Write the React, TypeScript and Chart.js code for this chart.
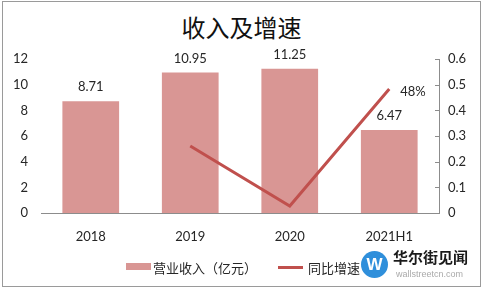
import React, { useEffect, useRef } from "react";
import { Chart, registerables } from "chart.js";

Chart.register(...registerables);

const categories = ["2018", "2019", "2020", "2021H1"];
const revenue = [8.71, 10.95, 11.25, 6.47];
const revenueLabels = ["8.71", "10.95", "11.25", "6.47"];
const growth: (number | null)[] = [null, 0.261, 0.027, 0.483];
const growthLabels = ["", "", "", "48%"];
const leftTicks = [0, 2, 4, 6, 8, 10, 12];
const rightTicks = [0, 0.1, 0.2, 0.3, 0.4, 0.5, 0.6];

const BAR_COLOR = "#D99694";
const LINE_COLOR = "#C0504D";
const AXIS_COLOR = "#8C8C8C";
const TEXT_COLOR = "#262626";
const NUM_FONT = "Lato, 'Liberation Sans', sans-serif";
const CJK_FONT = "'Noto Sans CJK SC', sans-serif";

const labelPlugin = {
  id: "labelPlugin",
  afterDatasetsDraw(chart: any) {
    const ctx = chart.ctx;
    ctx.save();
    ctx.fillStyle = TEXT_COLOR;
    ctx.font = `13px ${NUM_FONT}`;
    ctx.textAlign = "center";
    ctx.textBaseline = "middle";
    const barMeta = chart.getDatasetMeta(0);
    barMeta.data.forEach((el: any, i: number) => {
      ctx.fillText(revenueLabels[i], el.x, el.y - 14);
    });
    const lineMeta = chart.getDatasetMeta(1);
    ctx.textAlign = "left";
    lineMeta.data.forEach((el: any, i: number) => {
      if (growthLabels[i]) ctx.fillText(growthLabels[i], el.x + 11, el.y + 3);
    });
    // inward tick marks on the secondary axis
    const y1 = chart.scales.y1;
    ctx.strokeStyle = AXIS_COLOR;
    ctx.lineWidth = 1;
    rightTicks.forEach((v) => {
      const py = Math.round(y1.getPixelForValue(v)) + 0.5;
      ctx.beginPath();
      ctx.moveTo(chart.chartArea.right - 4, py);
      ctx.lineTo(chart.chartArea.right, py);
      ctx.stroke();
    });
    ctx.restore();
  },
};

function ChartCanvas() {
  const ref = useRef<HTMLCanvasElement | null>(null);
  useEffect(() => {
    if (!ref.current) return;
    const chart = new Chart(ref.current, {
      type: "bar",
      data: {
        labels: categories,
        datasets: [
          {
            type: "bar",
            label: "营业收入（亿元）",
            data: revenue,
            backgroundColor: BAR_COLOR,
            yAxisID: "y",
            barPercentage: 0.57,
            categoryPercentage: 1,
            order: 2,
          },
          {
            type: "line",
            label: "同比增速",
            data: growth as any,
            borderColor: LINE_COLOR,
            backgroundColor: LINE_COLOR,
            borderWidth: 3,
            pointRadius: 0,
            yAxisID: "y1",
            spanGaps: false,
            order: 1,
          } as any,
        ],
      },
      options: {
        responsive: false,
        animation: false,
        layout: { padding: { left: 0, right: 0, top: 59, bottom: 48 } },
        plugins: {
          legend: { display: false },
          title: { display: false },
          tooltip: { enabled: false },
        },
        scales: {
          x: {
            grid: { display: false, drawTicks: false },
            border: { display: true, color: AXIS_COLOR, width: 1 },
            ticks: { color: TEXT_COLOR, font: { family: NUM_FONT, size: 13 }, padding: 16 },
            afterFit: (s: any) => { s.height = 30; },
          },
          y: {
            position: "left",
            min: 0,
            max: 12,
            grid: { display: false, drawTicks: false },
            border: { display: false },
            ticks: { stepSize: 2, color: TEXT_COLOR, font: { family: NUM_FONT, size: 13 }, padding: 13 },
            afterFit: (s: any) => { s.width = 41; },
          },
          y1: {
            position: "right",
            min: 0,
            max: 0.6,
            grid: { display: false, drawTicks: false },
            border: { display: true, color: AXIS_COLOR, width: 1 },
            ticks: {
              stepSize: 0.1,
              color: TEXT_COLOR,
              font: { family: NUM_FONT, size: 13 },
              padding: 9,
              callback: (v: any) => {
                const n = Number(v);
                return n === 0 ? "0" : String(Math.round(n * 10) / 10);
              },
            },
            afterFit: (s: any) => { s.width = 44; },
          },
        },
      },
      plugins: [labelPlugin],
    });
    return () => chart.destroy();
  }, []);
  return <canvas ref={ref} width={483} height={291} style={{ position: "absolute", left: 0, top: 0 }} />;
}

export default function App() {
  return (
    <div style={{ position: "fixed", left: 0, top: 0, width: 483, height: 291, background: "#fff", overflow: "hidden" }}>
      <div style={{ position: "absolute", left: 2, top: 1, width: 477, height: 284, border: "1px solid #9A9A9A" }} />
      <div
        style={{
          position: "absolute", left: 0, top: 11, width: 483, textAlign: "center",
          fontFamily: CJK_FONT, fontSize: 24, fontWeight: 400, color: "#111", lineHeight: "32px",
        }}
      >
        收入及增速
      </div>
      <ChartCanvas />
      <div style={{ position: "absolute", left: 126, top: 263, width: 25, height: 7, background: BAR_COLOR }} />
      <div style={{ position: "absolute", left: 153, top: 259, fontFamily: CJK_FONT, fontSize: 13, lineHeight: "18px", color: TEXT_COLOR }}>
        营业收入（亿元）
      </div>
      <div style={{ position: "absolute", left: 278, top: 266, width: 25, height: 3, background: LINE_COLOR }} />
      <div style={{ position: "absolute", left: 308, top: 259, fontFamily: CJK_FONT, fontSize: 13, lineHeight: "18px", color: TEXT_COLOR }}>
        同比增速
      </div>
      <div
        style={{
          position: "absolute", left: 361, top: 251, width: 27, height: 27, borderRadius: "50%",
          background: "#2F8FDB", color: "#fff", fontFamily: "'Liberation Sans', sans-serif",
          fontWeight: 700, fontSize: 17, lineHeight: "27px", textAlign: "center",
        }}
      >
        W
      </div>
      <div style={{ position: "absolute", left: 393, top: 248, fontFamily: CJK_FONT, fontSize: 15, fontWeight: 700, lineHeight: "18px", color: "#1a1a1a" }}>
        华尔街见闻
      </div>
      <div style={{ position: "absolute", left: 396, top: 268, fontFamily: "'Liberation Sans', sans-serif", fontSize: 9, lineHeight: "12px", color: "#aaa" }}>
        wallstreetcn.com
      </div>
    </div>
  );
}
